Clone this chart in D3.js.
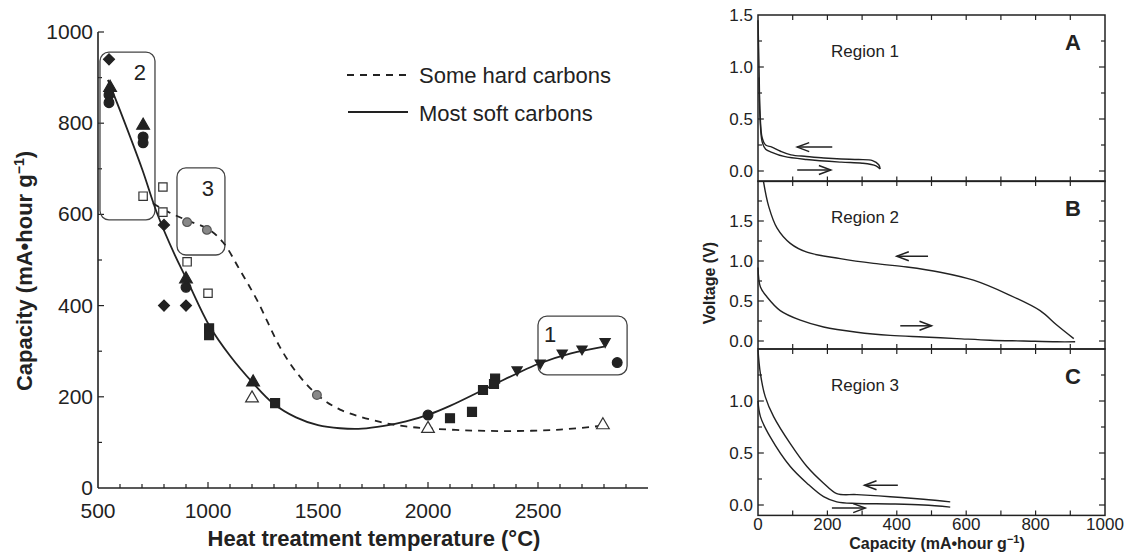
<!DOCTYPE html>
<html><head><meta charset="utf-8">
<script src="https://cdn.jsdelivr.net/npm/d3@7"></script>
<style>body{margin:0;background:#fff}svg{font-family:"Liberation Sans",Arial,sans-serif}</style>
</head><body><svg id="c" width="1130" height="556"></svg>
<script>
// ---------- Left chart data ----------
const xTicksLeft = [500, 1000, 1500, 2000, 2500];
const yTicksLeft = [0, 200, 400, 600, 800, 1000];
const legendLabels = ["Some hard carbons", "Most soft carbons"];
const softCurve = [[545,895],[600,828],[700,700],[768,603],[850,510],[905,456],[1005,357],[1100,290],[1205,230],[1295,186],[1400,155],[1500,138],[1600,131],[1700,130],[1800,136],[1900,146],[2009,162],[2100,180],[2250,215],[2400,250],[2500,272],[2650,295],[2800,310]];
const hardCurve = [[700,640],[800,610],[900,588],[1000,568],[1068,539],[1145,478],[1223,412],[1327,309],[1400,255],[1495,205],[1600,172],[1782,145],[1900,135],[1995,131],[2200,126],[2400,125],[2600,128],[2782,136]];
const filledDiamond = [[550,940],[800,400],[900,400],[800,577]];
const filledTriangle = [[555,878],[705,795],[900,458],[1205,232]];
const filledCircle = [[550,862],[550,845],[705,770],[705,757],[900,440],[2000,160],[2860,275]];
const openSquare = [[705,640],[795,660],[795,605],[905,496],[1000,427]];
const filledSquare = [[1005,350],[1005,335],[1305,186],[2100,153],[2200,167],[2250,215],[2305,240],[2300,228]];
const openTriangle = [[1200,197],[2000,130],[2795,138]];
const invTriangle = [[2405,259],[2510,274],[2610,296],[2700,305],[2805,321]];
const greyCircle = [[905,583],[995,566],[1495,204]];
const regionBoxes = [{label:"2",x0:509,x1:759,y0:588,y1:956},{label:"3",x0:859,x1:1077,y0:511,y1:702},{label:"1",x0:2500,x1:2905,y0:248,y1:377}];

// ---------- Right panels data ----------
const xTicksRight = [0, 200, 400, 600, 800, 1000];
const aCharge = [[0,1.45],[3,1.0],[6,0.55],[12,0.32],[22,0.25],[40,0.23],[65,0.19],[95,0.155],[140,0.14],[190,0.125],[240,0.115],[290,0.11],[330,0.1],[348,0.06],[352,0.02]];
const aDischarge = [[3,0.9],[6,0.5],[12,0.28],[22,0.21],[40,0.18],[75,0.14],[140,0.11],[240,0.085],[300,0.075],[340,0.05],[352,0.02]];
const bCharge = [[16,1.99],[31,1.68],[55,1.41],[93,1.22],[141,1.11],[237,1.03],[333,0.97],[429,0.925],[525,0.86],[621,0.76],[717,0.59],[813,0.38],[861,0.2],[910,0.03]];
const bDischarge = [[0,0.92],[7,0.675],[26,0.55],[64,0.38],[122,0.26],[189,0.175],[285,0.11],[381,0.07],[477,0.05],[573,0.03],[669,0.01],[765,0.0],[861,-0.01],[914,-0.01]];
const cCharge = [[0,1.49],[7,1.26],[21,1.04],[45,0.85],[93,0.59],[141,0.37],[189,0.21],[227,0.11],[285,0.1],[381,0.08],[477,0.055],[554,0.03]];
const cDischarge = [[0,1.0],[7,0.85],[36,0.65],[93,0.37],[141,0.21],[189,0.08],[227,0.03],[285,0.015],[381,0.01],[477,0.0],[554,-0.02]];
const panels = [
  {letter:"A", region:"Region 1", ymin:-0.1, ymax:1.5, yLabels:[0,0.5,1.0,1.5], curves:[aCharge,aDischarge], arrows:[[214,113,0.23],[113,210,0.01]]},
  {letter:"B", region:"Region 2", ymin:-0.1, ymax:2.0, yLabels:[0,0.5,1.0,1.5], curves:[bCharge,bDischarge], arrows:[[490,400,1.06],[410,500,0.19]]},
  {letter:"C", region:"Region 3", ymin:-0.1, ymax:1.5, yLabels:[0,0.5,1.0], curves:[cCharge,cDischarge], arrows:[[403,307,0.19],[213,309,-0.03]]}
];

const svg = d3.select("#c");
const ink = "#222";

// ---------- Left chart ----------
const x = d3.scaleLinear().domain([500,3000]).range([98,648]);
const y = d3.scaleLinear().domain([0,1000]).range([488,32]);
const L = svg.append("g");

L.append("line").attr("x1",x(500)).attr("x2",x(500)).attr("y1",y(0)).attr("y2",y(1000)).attr("stroke",ink).attr("stroke-width",1.6);
L.append("line").attr("x1",x(500)).attr("x2",x(3000)).attr("y1",y(0)).attr("y2",y(0)).attr("stroke",ink).attr("stroke-width",1.6);
d3.range(600,3000,100).forEach(t=>{
  const major = t%500===0;
  L.append("line").attr("x1",x(t)).attr("x2",x(t)).attr("y1",y(0)).attr("y2",y(0)-(major?6:4)).attr("stroke",ink).attr("stroke-width",1.2);
});
d3.range(100,1001,100).forEach(t=>{
  const major = t%200===0;
  L.append("line").attr("x1",x(500)).attr("x2",x(500)+(major?6:4)).attr("y1",y(t)).attr("y2",y(t)).attr("stroke",ink).attr("stroke-width",1.2);
});
L.selectAll(".xt").data(xTicksLeft).enter().append("text").attr("x",d=>x(d)).attr("y",518)
  .attr("text-anchor","middle").attr("font-size",21).attr("fill",ink).text(d=>d);
L.selectAll(".yt").data(yTicksLeft).enter().append("text").attr("x",93).attr("y",d=>y(d)+7)
  .attr("text-anchor","end").attr("font-size",21).attr("fill",ink).text(d=>d);
L.append("text").attr("x",374).attr("y",546).attr("text-anchor","middle").attr("font-size",22).attr("font-weight","bold").attr("fill",ink)
  .text("Heat treatment temperature (°C)");
const yl = L.append("text").attr("transform","translate(32,271) rotate(-90)").attr("text-anchor","middle").attr("font-size",22).attr("font-weight","bold").attr("fill",ink);
yl.append("tspan").text("Capacity (mA•hour g");
yl.append("tspan").attr("dy",-8).attr("font-size",14).text("−1");
yl.append("tspan").attr("dy",8).text(")");

regionBoxes.forEach(b=>{
  L.append("rect").attr("x",x(b.x0)).attr("y",y(b.y1)).attr("width",x(b.x1)-x(b.x0)).attr("height",y(b.y0)-y(b.y1))
    .attr("rx",9).attr("fill","none").attr("stroke","#444").attr("stroke-width",1.3);
  L.append("text").attr("x",x(b.x0)+(b.label==="1"?12:(b.label==="2"?40:31))).attr("y",y(b.y1)+(b.label==="1"?26:28))
    .attr("text-anchor","middle").attr("font-size",22).attr("fill",ink).text(b.label);
});

const lineL = d3.line().x(d=>x(d[0])).y(d=>y(d[1])).curve(d3.curveCatmullRom.alpha(0.5));
L.append("path").attr("d",lineL(softCurve)).attr("fill","none").attr("stroke",ink).attr("stroke-width",1.8);
L.append("path").attr("d",lineL(hardCurve)).attr("fill","none").attr("stroke",ink).attr("stroke-width",1.8).attr("stroke-dasharray","7,6");

const sym = (type,size)=>d3.symbol().type(type).size(size)();
function pts(data, type, size, fill, stroke, rot){
  L.selectAll(null).data(data).enter().append("path")
    .attr("transform",d=>`translate(${x(d[0])},${y(d[1])})`+(rot?` rotate(${rot})`:""))
    .attr("d",sym(type,size)).attr("fill",fill).attr("stroke",stroke).attr("stroke-width",1.2);
}
pts(filledDiamond, d3.symbolSquare, 60, ink, ink, 45);
pts(filledTriangle, d3.symbolTriangle, 70, ink, ink);
pts(filledCircle, d3.symbolCircle, 75, ink, ink);
pts(openSquare, d3.symbolSquare, 70, "#fff", "#333");
pts(filledSquare, d3.symbolSquare, 80, ink, ink);
pts(openTriangle, d3.symbolTriangle, 70, "#fff", "#333");
pts(invTriangle, d3.symbolTriangle, 45, ink, ink, 180);
pts(greyCircle, d3.symbolCircle, 60, "#888", "#555");

const leg = L.append("g");
leg.append("line").attr("x1",347).attr("x2",408).attr("y1",75).attr("y2",75).attr("stroke",ink).attr("stroke-width",1.8).attr("stroke-dasharray","7,6");
leg.append("line").attr("x1",348).attr("x2",408).attr("y1",112).attr("y2",112).attr("stroke",ink).attr("stroke-width",1.8);
leg.selectAll("text").data(legendLabels).enter().append("text").attr("x",419).attr("y",(d,i)=>83+i*38)
  .attr("font-size",22).attr("fill",ink).text(d=>d);

// ---------- Right panels ----------
const xr = d3.scaleLinear().domain([0,1000]).range([758,1105]);
const pxPerV = [104, 80, 104];
const tops = [15, 181, 349];
const R = svg.append("g");
panels.forEach((p,i)=>{
  const top = tops[i];
  const bottom = top + (p.ymax-p.ymin)*pxPerV[i];
  const yr = d3.scaleLinear().domain([p.ymin,p.ymax]).range([bottom,top]);
  const g = R.append("g");
  g.append("rect").attr("x",xr(0)).attr("y",top).attr("width",xr(1000)-xr(0)).attr("height",bottom-top)
    .attr("fill","none").attr("stroke",ink).attr("stroke-width",1.5);
  d3.range(100,1000,100).forEach(t=>{
    g.append("line").attr("x1",xr(t)).attr("x2",xr(t)).attr("y1",top).attr("y2",top+5).attr("stroke",ink).attr("stroke-width",1.2);
    g.append("line").attr("x1",xr(t)).attr("x2",xr(t)).attr("y1",bottom).attr("y2",bottom-5).attr("stroke",ink).attr("stroke-width",1.2);
  });
  d3.range(0,p.ymax+0.001,0.25).forEach(v=>{
    if (yr(v) < top+1) return;
    const len = (Math.abs(v*2-Math.round(v*2))<1e-6)?6:4;
    g.append("line").attr("x1",xr(0)).attr("x2",xr(0)+len).attr("y1",yr(v)).attr("y2",yr(v)).attr("stroke",ink).attr("stroke-width",1.2);
    g.append("line").attr("x1",xr(1000)).attr("x2",xr(1000)-len).attr("y1",yr(v)).attr("y2",yr(v)).attr("stroke",ink).attr("stroke-width",1.2);
  });
  g.selectAll(".yl").data(p.yLabels).enter().append("text").attr("x",753).attr("y",d=>yr(d)+6)
    .attr("text-anchor","end").attr("font-size",17).attr("fill",ink).text(d=>d.toFixed(1));
  const ln = d3.line().x(d=>xr(d[0])).y(d=>yr(d[1])).curve(d3.curveCatmullRom.alpha(0.5));
  p.curves.forEach(c=>g.append("path").attr("d",ln(c)).attr("fill","none").attr("stroke",ink).attr("stroke-width",1.4));
  p.arrows.forEach(a=>{
    const x1=xr(a[0]), x2=xr(a[1]), yy=yr(a[2]);
    const dir = Math.sign(x2-x1);
    g.append("line").attr("x1",x1).attr("x2",x2).attr("y1",yy).attr("y2",yy).attr("stroke",ink).attr("stroke-width",1.5);
    g.append("path").attr("d",`M${x2-dir*12},${yy-4.5} L${x2},${yy} L${x2-dir*12},${yy+4.5}`).attr("fill","none").attr("stroke",ink).attr("stroke-width",1.5);
  });
  g.append("text").attr("x",865).attr("y",top+42).attr("text-anchor","middle").attr("font-size",17).attr("fill",ink).text(p.region);
  g.append("text").attr("x",1073).attr("y",top+35).attr("text-anchor","middle").attr("font-size",22).attr("font-weight","bold").attr("fill",ink).text(p.letter);
});
R.selectAll(".xl").data(xTicksRight).enter().append("text").attr("x",d=>xr(d)).attr("y",530)
  .attr("text-anchor","middle").attr("font-size",17).attr("fill",ink).text(d=>d);
const xl = R.append("text").attr("x",937).attr("y",549).attr("text-anchor","middle").attr("font-size",16).attr("font-weight","bold").attr("fill",ink);
xl.append("tspan").text("Capacity (mA•hour g");
xl.append("tspan").attr("dy",-6).attr("font-size",11).text("−1");
xl.append("tspan").attr("dy",6).text(")");
R.append("text").attr("transform","translate(715,283) rotate(-90)").attr("text-anchor","middle").attr("font-size",16).attr("font-weight","bold").attr("fill",ink).text("Voltage (V)");
</script></body></html>
